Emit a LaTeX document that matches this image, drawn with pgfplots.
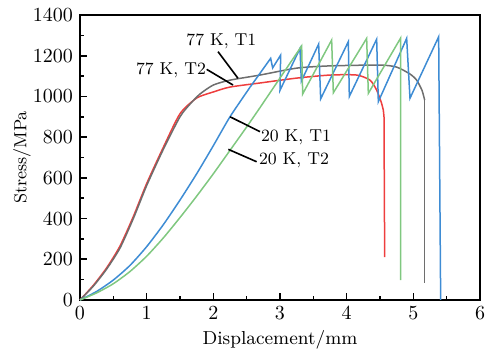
\documentclass[border=0pt]{standalone}
\usepackage{pgfplots}
\pgfplotsset{compat=1.18}
\definecolor{cred}{RGB}{238,62,62}
\definecolor{cgray}{RGB}{110,110,110}
\definecolor{cblue}{RGB}{62,140,212}
\definecolor{cgreen}{RGB}{128,200,128}
\begin{document}
\begin{tikzpicture}
\begin{axis}[at={(0,0)}, anchor=south west, scale only axis,
  width=200pt, height=142.5pt,
  xmin=0, xmax=6, ymin=0, ymax=1400,
  xtick={0,1,2,3,4,5,6}, ytick={0,200,400,600,800,1000,1200,1400},
  minor x tick num=1, minor y tick num=1,
  tick pos=left, tick align=inside,
  major tick length=3.5pt, minor tick length=2pt,
  axis line style={line width=1pt},
  every tick/.style={black, line width=0.8pt},
  /pgf/number format/set thousands separator={},
  ticklabel style={font=\fontsize{10}{12}\selectfont},
  xlabel={Displacement/mm}, ylabel={Stress/MPa},
  xlabel style={at={(axis description cs:0.5,-0.14)}, anchor=center, font=\fontsize{9.4}{11}\selectfont},
  ylabel style={at={(axis description cs:-0.145,0.5)}, anchor=center, font=\fontsize{8.8}{11}\selectfont},
  clip=false]
% 77 K, T2 (red)
\addplot[cred, line width=0.75pt, smooth, tension=0.4] coordinates {
(0,0) (0.2,72) (0.4,158) (0.6,265) (0.8,410) (1.0,572) (1.25,750) (1.5,915) (1.75,992) (2.0,1022) (2.25,1046) (2.7,1066) (3.25,1090) (3.75,1105) (4.15,1105) (4.35,1080) (4.45,1031) (4.52,970) (4.55,933)};
\addplot[cred, line width=0.75pt] coordinates {(4.55,933) (4.56,900) (4.57,211)};
% 77 K, T1 (gray)
\addplot[cgray, line width=0.75pt, smooth, tension=0.4] coordinates {
(0,0) (0.2,68) (0.4,152) (0.6,255) (0.8,400) (1.0,562) (1.25,740) (1.5,900) (1.65,962) (1.8,1012) (2.0,1056) (2.25,1080) (2.7,1105) (3.25,1139) (3.75,1150) (4.5,1154) (4.75,1144) (4.95,1110) (5.05,1080) (5.13,1030) (5.17,982)};
\addplot[cgray, line width=0.75pt] coordinates {(5.17,982) (5.17,83)};
% 20 K, T1 (blue)
\addplot[cblue, line width=0.75pt, smooth, tension=0.4] coordinates {
(0,0) (0.25,42) (0.5,98) (0.75,170) (1.0,262) (1.25,370) (1.5,491) (1.75,620) (2.0,758) (2.25,900) (2.55,1045)};
\addplot[cblue, line width=0.75pt] coordinates {
(2.55,1045) (2.86,1187) (2.89,1140) (3.01,1203) (3.0,1030) (3.30,1236) (3.32,1075) (3.58,1257) (3.61,988) (4.025,1269) (4.04,1000) (4.45,1281) (4.475,974) (4.90,1285) (4.95,991) (5.38,1293) (5.41,0)};
% 20 K, T2 (green)
\addplot[cgreen, line width=0.75pt, smooth, tension=0.4] coordinates {
(0,0) (0.25,35) (0.5,80) (0.75,140) (1.0,215) (1.25,305) (1.5,405) (1.75,510) (2.0,620) (2.25,735) (2.5,850) (2.7,945)};
\addplot[cgreen, line width=0.75pt] coordinates {
(2.7,945) (3.325,1248) (3.34,1012) (3.775,1277) (3.80,1018) (4.30,1285) (4.325,1015) (4.81,1287) (4.81,98)};
% annotations
\draw[black, line width=0.8pt] (axis cs:2.07,1220) -- (axis cs:2.37,1089);
\draw[black, line width=0.8pt] (axis cs:1.90,1133) -- (axis cs:2.295,1056);
\draw[black, line width=0.8pt] (axis cs:2.25,900) -- (axis cs:2.70,827);
\draw[black, line width=0.8pt] (axis cs:2.225,740) -- (axis cs:2.65,679);
\node[font=\fontsize{8.6}{10}\selectfont] at (axis cs:2.12,1269) {77 K, T1};
\node[font=\fontsize{8.6}{10}\selectfont] at (axis cs:1.365,1130) {77 K, T2};
\node[font=\fontsize{8.6}{10}\selectfont] at (axis cs:3.24,801) {20 K, T1};
\node[font=\fontsize{8.6}{10}\selectfont] at (axis cs:3.21,688) {20 K, T2};
\end{axis}
\pgfresetboundingbox
\path[use as bounding box] (-40pt,-25.5pt) rectangle (206pt,150pt);
\end{tikzpicture}
\end{document}
